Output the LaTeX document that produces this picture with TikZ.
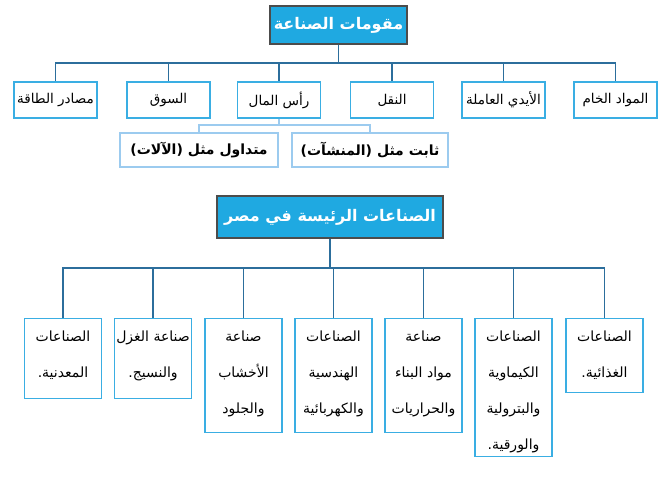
\documentclass[tikz,border=0pt]{standalone}
\usepackage{fontspec}
\newfontfamily\arabicfont[Script=Arabic]{DejaVu Sans}
\TeXXeTstate=1
\newcommand{\AR}[1]{\beginR #1\endR}
\definecolor{ttl}{HTML}{1FA9E1}
\definecolor{bdr}{HTML}{3AAEE3}
\definecolor{lnc}{HTML}{2C6E9C}
\definecolor{lite}{HTML}{9CCBEF}
\begin{document}
\begin{tikzpicture}[x=1pt,y=-1pt,
  ttlbox/.style={draw=black!70,line width=1.2pt,fill=ttl,text=white,font=\arabicfont\bfseries\fontsize{16}{18}\selectfont},
  bx/.style={draw=bdr,line width=1.2pt,font=\arabicfont\fontsize{13.5}{15}\selectfont},
  txt/.style={font=\arabicfont\fontsize{14}{36}\selectfont,align=center,inner sep=0pt},
  subbx/.style={draw=lite,line width=1.2pt,font=\arabicfont\bfseries\fontsize{14}{16}\selectfont},
  ln/.style={draw=lnc,line width=1.3pt},
  sln/.style={draw=lite,line width=1.3pt}]
\useasboundingbox (0,0) rectangle (669,479);
\fill[white] (0,0) rectangle (669,479);
% top
\node[ttlbox,minimum width=137,minimum height=38] (t1) at (338.5,25) {\AR{مقومات الصناعة}};
\foreach \n/\x/\t in {a/55.5/مصادر الطاقة,b/168.5/السوق,c/279/رأس المال,d/392/النقل,e/503.5/الأيدي العاملة,f/615.5/المواد الخام}{
  \node[bx,minimum width=83,minimum height=36,inner xsep=1pt] (\n) at (\x,100) {\AR{\t}};
  \draw[ln] (t1.south) -- (338.5,63) -| (\n.north);
}
\node[subbx,minimum width=158,minimum height=34] (s1) at (199,150) {\AR{متداول مثل (الآلات)}};
\node[subbx,minimum width=156,minimum height=34] (s2) at (370,150) {\AR{ثابت مثل (المنشآت)}};
\coordinate (cm) at (279,125);
\draw[sln] (c.south) -- (cm);
\draw[sln] (cm) -| (s1.north);
\draw[sln] (cm) -| (s2.north);
% bottom
\node[ttlbox,minimum width=226,minimum height=42] (t2) at (330,217) {\AR{الصناعات الرئيسة في مصر}};
\coordinate (hb) at (330,268);
\draw[ln] (t2.south) -- (hb);
\foreach \n/\x/\h/\t in {
  g/63/80/{\AR{الصناعات}\\\AR{المعدنية.}},
  h/153/80/{\AR{صناعة الغزل}\\\AR{والنسيج.}},
  i/243.5/114/{\AR{صناعة}\\\AR{الأخشاب}\\\AR{والجلود}},
  j/333.5/114/{\AR{الصناعات}\\\AR{الهندسية}\\\AR{والكهربائية}},
  k/423.5/114/{\AR{صناعة}\\\AR{مواد البناء}\\\AR{والحراريات}},
  l/513.5/138/{\AR{الصناعات}\\\AR{الكيماوية}\\\AR{والبترولية}\\\AR{والورقية.}},
  m/604.5/74/{\AR{الصناعات}\\\AR{الغذائية.}}}{
  \node[bx,anchor=north,minimum width=77,minimum height=\h] (\n) at (\x,318) {};
  \node[txt,anchor=north] (\n t) at ([yshift=-13pt]\n.north) {\t};
  \draw[ln] (hb) -| (\n.north);
}
\end{tikzpicture}
\end{document}
